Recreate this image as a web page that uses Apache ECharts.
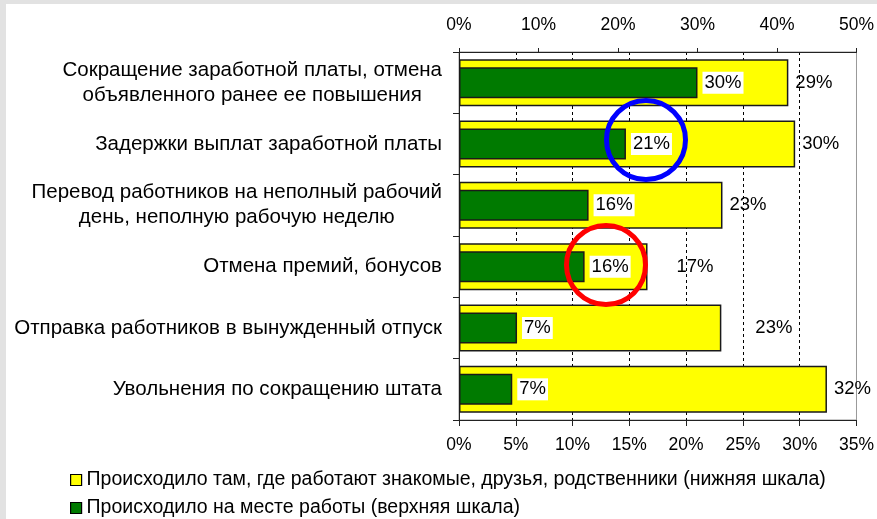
<!DOCTYPE html>
<html>
<head>
<meta charset="utf-8">
<script src="https://cdn.jsdelivr.net/npm/echarts@6/dist/echarts.min.js"></script>
<style>
  html, body { margin: 0; padding: 0; background: #fff; }
  #chart { width: 877px; height: 519px; }
</style>
</head>
<body>
<div id="chart"></div>
<script>
// категории (сверху вниз)
const categories = [
  "Сокращение заработной платы, отмена\nобъявленного ранее ее повышения",
  "Задержки выплат заработной платы",
  "Перевод работников на неполный рабочий\nдень, неполную рабочую неделю",
  "Отмена премий, бонусов",
  "Отправка работников в вынужденный отпуск",
  "Увольнения по сокращению штата"
];
// нижняя шкала (жёлтые)
const friendsValues = [29, 29.6, 23.2, 16.6, 23.1, 32.4];
// верхняя шкала (зелёные)
const workValues = [30, 21, 16.3, 15.8, 7.3, 6.7];
const bottomTicks = [0, 5, 10, 15, 20, 25, 30, 35];
const topTicks = [0, 10, 20, 30, 40, 50];

const friendsName = "Происходило там, где работают знакомые, друзья, родственники (нижняя шкала)";
const workName = "Происходило на месте работы (верхняя шкала)";

// сдвиг подписей жёлтых столбцов (как на исходной диаграмме)
const yellowLabelShift = [0, 0, 0, 22, 27, 0];

const font = "Liberation Sans, Arial, sans-serif";

let myChart = echarts.init(document.getElementById("chart"));

myChart.setOption({
  animation: false,
  backgroundColor: "#fff",
  textStyle: { fontFamily: font, color: "#000" },
  grid: {
    left: 459,
    right: 16,
    top: 52,
    bottom: 99,
    show: true,
    borderColor: "#999",
    borderWidth: 1,
    backgroundColor: "transparent"
  },
  legend: {
    orient: "vertical",
    left: 70,
    top: 469,
    height: 80,
    padding: 0,
    itemWidth: 11,
    itemHeight: 11,
    itemGap: 6,
    icon: "rect",
    data: [friendsName, workName],
    itemStyle: { borderColor: "#000", borderWidth: 1.2 },
    textStyle: { fontSize: 19.5, lineHeight: 22, color: "#000", fontFamily: font }
  },
  xAxis: [
    {
      type: "value",
      position: "bottom",
      min: bottomTicks[0],
      max: bottomTicks[bottomTicks.length - 1],
      interval: 5,
      axisLine: { show: true, lineStyle: { color: "#222", width: 1 } },
      axisTick: { show: true, length: 6, lineStyle: { color: "#222" } },
      axisLabel: { formatter: "{value}%", fontSize: 17.5, color: "#000", margin: 16 },
      splitLine: {
        show: true,
        showMinLine: false,
        showMaxLine: false,
        lineStyle: { color: "#000", type: [3, 3], width: 1 }
      }
    },
    {
      type: "value",
      position: "top",
      min: topTicks[0],
      max: topTicks[topTicks.length - 1],
      interval: 10,
      axisLine: { show: true, lineStyle: { color: "#222", width: 1 } },
      axisTick: { show: true, length: 4, lineStyle: { color: "#222" } },
      axisLabel: { formatter: "{value}%", fontSize: 17.5, color: "#000", margin: 18 },
      splitLine: { show: false }
    }
  ],
  yAxis: [
    {
      type: "category",
      data: categories,
      inverse: true,
      axisLine: { show: true, lineStyle: { color: "#222", width: 1 } },
      axisTick: { show: true, length: 6, lineStyle: { color: "#222" } },
      axisLabel: {
        margin: 17,
        color: "#000",
        formatter: function (v) {
          return v.split("\n").map(function (s) { return "{c|" + s + "}"; }).join("\n");
        },
        rich: {
          c: { align: "center", fontSize: 20.5, lineHeight: 25, color: "#000", fontFamily: font }
        }
      },
      splitLine: { show: false }
    },
    {
      type: "category",
      data: categories,
      inverse: true,
      show: false
    }
  ],
  series: [
    {
      name: friendsName,
      type: "bar",
      xAxisIndex: 0,
      yAxisIndex: 0,
      barWidth: 47,
      data: friendsValues.map(function (v, i) {
        return { value: v, label: { offset: [yellowLabelShift[i], 0] } };
      }),
      itemStyle: { color: "#ffff00", borderColor: "#1a1a1a", borderWidth: 1.5 },
      label: {
        show: true,
        position: "right",
        distance: 7,
        fontSize: 18.5,
        color: "#000",
        formatter: function (p) { return Math.round(p.value) + "%"; }
      }
    },
    {
      name: workName,
      type: "bar",
      xAxisIndex: 1,
      yAxisIndex: 1,
      barWidth: 31,
      data: workValues,
      itemStyle: { color: "#007a00", borderColor: "#1a1a1a", borderWidth: 1.5 },
      label: {
        show: true,
        position: "right",
        distance: 5,
        fontSize: 18.5,
        color: "#000",
        backgroundColor: "#fff",
        padding: [2, 2, 1, 2],
        formatter: function (p) { return Math.round(p.value) + "%"; }
      }
    }
  ],
  graphic: [
    // серая рамка слева и сверху
    { type: "rect", shape: { x: 0, y: 0, width: 877, height: 4 }, style: { fill: "#e2e2e2" }, silent: true },
    { type: "rect", shape: { x: 0, y: 0, width: 6, height: 519 }, style: { fill: "#e2e2e2" }, silent: true },
    // выделения
    { type: "circle", shape: { cx: 646, cy: 140, r: 39.5 }, style: { fill: "none", stroke: "#0000ff", lineWidth: 5 }, z: 100 },
    { type: "circle", shape: { cx: 606, cy: 265, r: 39.5 }, style: { fill: "none", stroke: "#ff0000", lineWidth: 5 }, z: 100 }
  ]
});

window.addEventListener("resize", () => {
  myChart.resize();
});
</script>
</body>
</html>
